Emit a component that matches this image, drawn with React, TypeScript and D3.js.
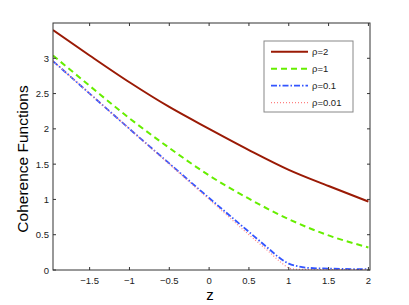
import React from 'react';
import * as d3 from 'd3';

const zRho2 = [-1.96, -1.5, -1, -0.5, 0, 0.5, 1, 1.5, 2];
const rho2 = [3.40, 3.04, 2.66, 2.31, 2.0, 1.70, 1.42, 1.19, 0.97];

const zRho1 = [-1.96, -1.5, -1, -0.5, 0, 0.5, 1, 1.5, 2];
const rho1 = [3.04, 2.61, 2.15, 1.73, 1.34, 1.01, 0.72, 0.49, 0.32];

const zRho01 = [-1.96, -1.5, -1, -0.5, 0, 0.25, 0.5, 0.75, 0.875, 1, 1.125, 1.25, 1.5, 2];
const rho01 = [2.96, 2.5, 2.0, 1.51, 1.02, 0.78, 0.54, 0.3, 0.18, 0.09, 0.05, 0.03, 0.02, 0.01];

const zRho001 = [-1.96, -1.5, -1, -0.5, 0, 0.5, 0.75, 0.9, 1, 1.1, 1.5, 2];
const rho001 = [2.96, 2.5, 2.0, 1.5, 1.0, 0.5, 0.26, 0.11, 0.03, 0.01, 0.005, 0.005];

const xTicks = [-1.5, -1, -0.5, 0, 0.5, 1, 1.5, 2];
const yTicks = [0, 0.5, 1, 1.5, 2, 2.5, 3];

const series = [
  { name: 'ρ=2', z: zRho2, v: rho2, color: '#9a1a05', dash: '', width: 2 },
  { name: 'ρ=1', z: zRho1, v: rho1, color: '#66ee00', dash: '6,4', width: 2 },
  { name: 'ρ=0.1', z: zRho01, v: rho01, color: '#3355ff', dash: '6,2,1.5,2', width: 1.8 },
  { name: 'ρ=0.01', z: zRho001, v: rho001, color: '#ff8080', dash: '1,2', width: 1.2 },
];

const fmt = (t: number) => (t < 0 ? '\u2212' + Math.abs(t) : String(t));

export default function App() {
  const W = 409;
  const H = 305;
  const left = 53, right = 370, top = 23, bottom = 270;
  const x = d3.scaleLinear().domain([-1.96, 2.02]).range([left, right]);
  const y = d3.scaleLinear().domain([0, 3.5]).range([bottom, top]);
  const font = '"Liberation Sans", Arial, sans-serif';

  const line = d3
    .line<[number, number]>()
    .x((d) => x(d[0]))
    .y((d) => y(d[1]))
    .curve(d3.curveMonotoneX);

  return (
    <svg width={W} height={H} style={{ position: 'absolute', left: 0, top: 0 }} fontFamily={font}>
      <rect x={0} y={0} width={W} height={H} fill="#fff" />
      <defs>
        <clipPath id="plot">
          <rect x={left} y={top} width={right - left} height={bottom - top} />
        </clipPath>
      </defs>

      <g clipPath="url(#plot)">
        {series.map((s) => (
          <path
            key={s.name}
            d={line(s.z.map((z, i) => [z, s.v[i]] as [number, number])) || ''}
            fill="none"
            stroke={s.color}
            strokeWidth={s.width}
            strokeDasharray={s.dash}
          />
        ))}
      </g>

      <rect x={left} y={top} width={right - left} height={bottom - top} fill="none" stroke="#333" strokeWidth={1} />

      {xTicks.map((t) => (
        <g key={'x' + t}>
          <line x1={x(t)} x2={x(t)} y1={bottom} y2={bottom - 3} stroke="#333" />
          <line x1={x(t)} x2={x(t)} y1={top} y2={top + 3} stroke="#333" />
          <text x={x(t)} y={284} fontSize={9.5} textAnchor="middle" fill="#222">
            {fmt(t)}
          </text>
        </g>
      ))}
      {yTicks.map((t) => (
        <g key={'y' + t}>
          <line x1={left} x2={left + 3} y1={y(t)} y2={y(t)} stroke="#333" />
          <line x1={right} x2={right - 3} y1={y(t)} y2={y(t)} stroke="#333" />
          <text x={49} y={y(t) + 3.5} fontSize={9.5} textAnchor="end" fill="#222">
            {t}
          </text>
        </g>
      ))}

      <text x={210} y={300} fontSize={15} textAnchor="middle" fill="#000">
        z
      </text>
      <text
        transform="translate(28,159) rotate(-90)"
        fontSize={15.5}
        textAnchor="middle"
        fill="#000"
      >
        Coherence Functions
      </text>

      <g>
        <rect x={264} y={41} width={89} height={71} fill="#fff" stroke="#888" strokeWidth={1} />
        {series.map((s, i) => {
          const ly = 51.7 + i * 17;
          return (
            <g key={'l' + s.name}>
              <line x1={271} x2={308} y1={ly} y2={ly} stroke={s.color} strokeWidth={s.width} strokeDasharray={s.dash} />
              <text x={312} y={ly + 3.5} fontSize={9.5} fill="#222">
                {s.name}
              </text>
            </g>
          );
        })}
      </g>
    </svg>
  );
}
